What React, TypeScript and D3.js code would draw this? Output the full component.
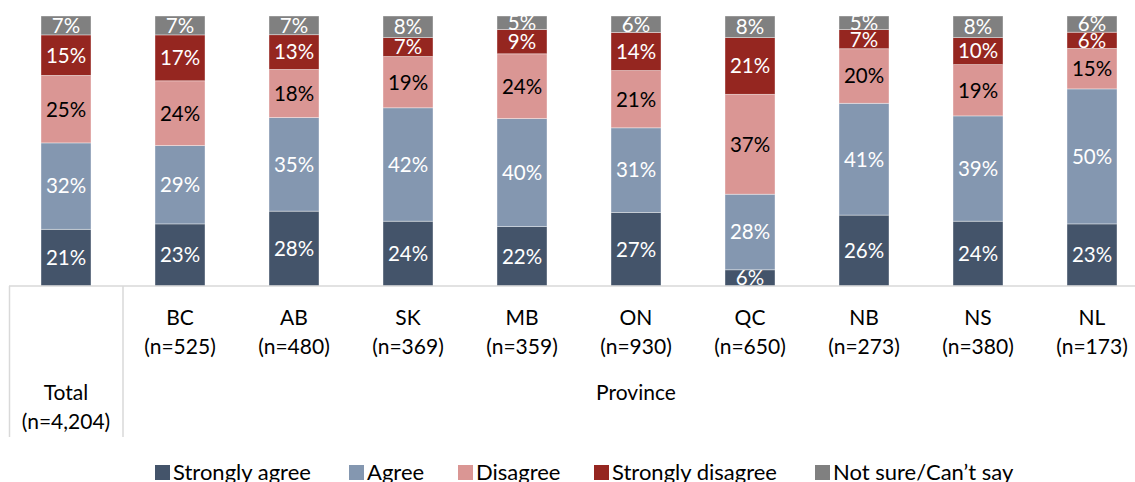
import React from "react";
import * as d3 from "d3";

const categories = ["Total", "BC", "AB", "SK", "MB", "ON", "QC", "NB", "NS", "NL"];
const sampleSizes = ["(n=4,204)", "(n=525)", "(n=480)", "(n=369)", "(n=359)", "(n=930)", "(n=650)", "(n=273)", "(n=380)", "(n=173)"];
const stronglyAgree = [21, 23, 28, 24, 22, 27, 6, 26, 24, 23];
const agree = [32, 29, 35, 42, 40, 31, 28, 41, 39, 50];
const disagree = [25, 24, 18, 19, 24, 21, 37, 20, 19, 15];
const stronglyDisagree = [15, 17, 13, 7, 9, 14, 21, 7, 10, 6];
const notSure = [7, 7, 7, 8, 5, 6, 8, 5, 8, 6];
const seriesNames = ["Strongly agree", "Agree", "Disagree", "Strongly disagree", "Not sure/Can\u2019t say"];
const groupLabel = "Province";

const colors = ["#44546a", "#8497b0", "#da9694", "#952620", "#808080"];
const textColors = ["#ffffff", "#ffffff", "#000000", "#ffffff", "#ffffff"];
const FONT = "Lato, 'Open Sans', sans-serif";

export default function App() {
  const W = 1135, H = 482;
  const keys = ["sa", "a", "d", "sd", "ns"];
  const rows = categories.map((c, i) => ({
    cat: c,
    sa: stronglyAgree[i],
    a: agree[i],
    d: disagree[i],
    sd: stronglyDisagree[i],
    ns: notSure[i],
  }));
  const stack = d3.stack<any>().keys(keys).offset(d3.stackOffsetExpand);
  const series = stack(rows);
  const x = d3.scaleBand().domain(categories).range([9, 1149]).paddingInner(0.5614).paddingOuter(0.2807);
  const y = d3.scaleLinear().domain([0, 1]).range([286, 16]);
  const bw = x.bandwidth();
  const axisY = 286;
  const bottomY = 437;
  const dividerX = x("BC")! - (x.step() - bw) / 2;

  const legendTextX = [173, 367, 476, 612, 833];

  return (
    <svg width={W} height={H} style={{ position: "absolute", left: 0, top: 0, display: "block" }} fontFamily={FONT}>
      <rect x={0} y={0} width={W} height={H} fill="#fff" />
      {series.map((s, si) => (
        <g key={si}>
          {s.map((d, i) => {
            const y0 = y(d[0]);
            const y1 = y(d[1]);
            const xx = x(categories[i])!;
            const val = (rows[i] as any)[keys[si]];
            return (
              <g key={i}>
                <rect x={xx} y={y1} width={bw} height={y0 - y1} fill={colors[si]} stroke="#ffffff" strokeOpacity={0.5} strokeWidth={0.75} />
                <text
                  x={xx + bw / 2}
                  y={(y0 + y1) / 2}
                  dy="0.36em"
                  textAnchor="middle"
                  fontSize={20.5}
                  fill={textColors[si]}
                >
                  {val}%
                </text>
              </g>
            );
          })}
        </g>
      ))}
      {/* category axis */}
      <line x1={9} x2={W} y1={axisY} y2={axisY} stroke="#d9d9d9" strokeWidth={1.5} />
      <line x1={9.5} x2={9.5} y1={axisY} y2={bottomY} stroke="#d9d9d9" strokeWidth={1.5} />
      <line x1={dividerX} x2={dividerX} y1={axisY} y2={bottomY} stroke="#d9d9d9" strokeWidth={1.5} />
      {categories.map((c, i) => {
        const cx = x(c)! + bw / 2;
        const isTotal = i === 0;
        const y1 = isTotal ? 392 : 317;
        return (
          <g key={c}>
            <text x={cx} y={y1} dy="0.36em" textAnchor="middle" fontSize={21} fill="#000">{c}</text>
            <text x={cx} y={y1 + 29} dy="0.36em" textAnchor="middle" fontSize={21} fill="#000">{sampleSizes[i]}</text>
          </g>
        );
      })}
      <text x={(dividerX + 1149) / 2} y={392} dy="0.36em" textAnchor="middle" fontSize={21} fill="#000">{groupLabel}</text>
      {/* legend */}
      {seriesNames.map((n, i) => (
        <g key={n}>
          <rect x={legendTextX[i] - 18} y={465} width={15} height={15} fill={colors[i]} />
          <text x={legendTextX[i]} y={480} fontSize={22} fill="#000">{n}</text>
        </g>
      ))}
    </svg>
  );
}
